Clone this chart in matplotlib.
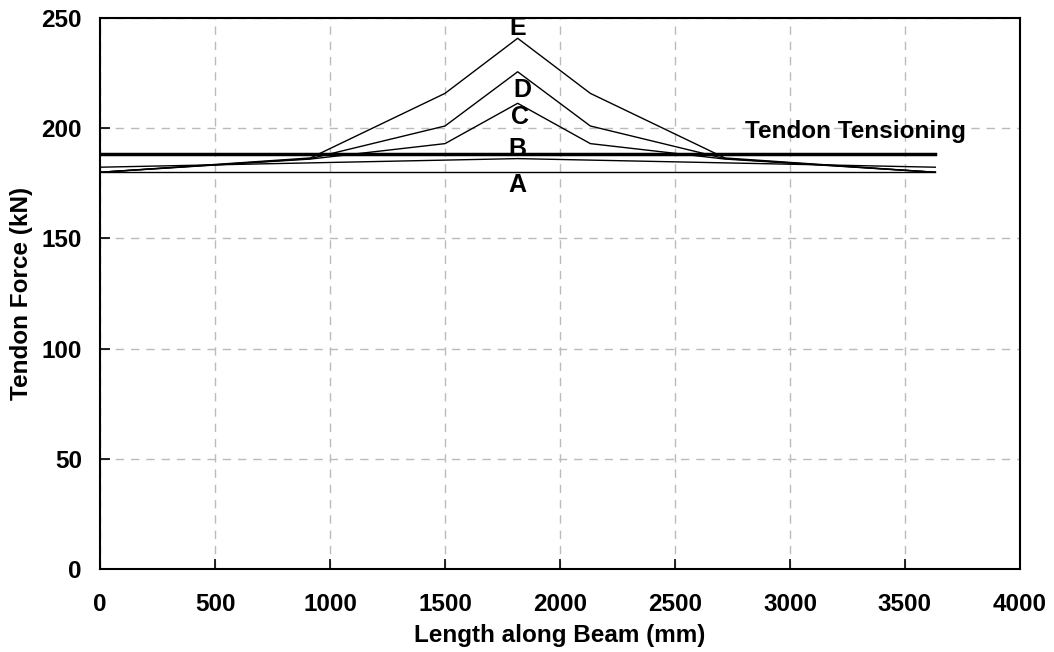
import matplotlib
matplotlib.use('Agg')
import matplotlib.pyplot as plt
import numpy as np

plt.rcParams['font.family'] = ['Liberation Sans', 'DejaVu Sans']
plt.rcParams['font.weight'] = 'bold'

# beam positions (mm)
x_pts = [0, 915, 1500, 1816, 2132, 2717, 3632]
force_c = [180.0, 186.0, 193.0, 211.3, 193.0, 186.0, 180.0]
force_d = [180.0, 186.2, 201.0, 225.6, 201.0, 186.2, 180.0]
force_e = [180.0, 186.5, 215.8, 240.8, 215.8, 186.5, 180.0]

x_ab = [0, 1816, 3632]
force_a = [180.2, 180.2, 180.2]
force_b = [182.3, 186.2, 182.3]

x_tens = [0, 3632]
force_tens = [188.2, 188.2]

labels = ['A', 'B', 'C', 'D', 'E']
label_x = [1816, 1816, 1826, 1835, 1816]
label_y = [174.2, 190.4, 205.2, 217.3, 245.5]

fig = plt.figure(figsize=(10.54, 6.52), dpi=100)
ax = fig.add_axes([0.0949, 0.1273, 0.8728, 0.8451])

ax.plot(x_ab, force_a, color='black', lw=1.0)
ax.plot(x_ab, force_b, color='black', lw=1.0)
ax.plot(x_pts, force_c, color='black', lw=1.0)
ax.plot(x_pts, force_d, color='black', lw=1.0)
ax.plot(x_pts, force_e, color='black', lw=1.0)
ax.plot(x_tens, force_tens, color='black', lw=2.5)

for lab, lx, ly in zip(labels, label_x, label_y):
    ax.text(lx, ly, lab, ha='center', va='center', fontsize=18, fontweight='bold')
ax.text(3283, 198.4, 'Tendon Tensioning', ha='center', va='center',
        fontsize=17.5, fontweight='bold')

ax.set_xlim(0, 4000)
ax.set_ylim(0, 250)
ax.set_xticks(np.arange(0, 4001, 500))
ax.set_yticks(np.arange(0, 251, 50))
ax.grid(True, color='#bbbbbb', linestyle=(0, (6, 5)), lw=1.0)
ax.tick_params(direction='in', length=7, width=1.2, labelsize=17.5)
ax.tick_params(axis='x', pad=17)
ax.tick_params(axis='y', pad=13)
for s in ax.spines.values():
    s.set_linewidth(1.5)

ax.set_xlabel('Length along Beam (mm)', fontsize=17.5, fontweight='bold', labelpad=6)
ax.set_ylabel('Tendon Force (kN)', fontsize=17.5, fontweight='bold', labelpad=6)

fig.savefig('out.png', dpi=100)
